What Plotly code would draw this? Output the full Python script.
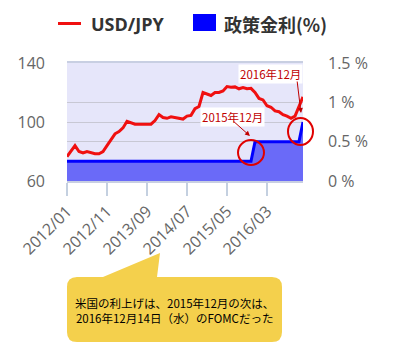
import plotly.graph_objects as go
import pandas as pd

months = [d.strftime("%Y/%m") for d in pd.date_range("2012-01-01", "2016-12-01", freq="MS")]

usdjpy = [76.5, 80, 84, 80, 79, 80, 79, 78.5, 78.5, 80, 84, 88,
          92, 93.5, 96, 100.5, 99.5, 98.5, 98.5, 98.5, 98.5, 98.5, 101, 105,
          103, 102.5, 103.5, 103, 102.5, 102, 104, 104.5, 109, 110.5, 120, 119,
          118, 120, 120, 121, 124, 123.5, 123.8, 122.5, 123.3, 122.5, 122.8, 120,
          116, 115, 111, 110, 107.5, 107, 105, 104, 102.5, 104, 110.5, 117]

policy_rate = [0.25] * 47 + [0.5] * 12 + [0.75]

tick_labels = ["2012/01", "2012/11", "2013/09", "2014/07", "2015/05", "2016/03"]
left_ticks = [60, 100, 140]
right_ticks = [0, 0.5, 1, 1.5]
right_text = ["0 %", "0.5 %", "1 %", "1.5 %"]

W_, H_ = 394, 352
L, R, T, B = 67, 303, 63, 181
PW, PH = R - L, B - T


def px(x):
    return (x - L) / PW


def py(y):
    return (B - y) / PH


FONT = "Open Sans, Noto Sans CJK JP, sans-serif"
JFONT = "Noto Sans CJK JP, sans-serif"
GRAY = "#666666"

fig = go.Figure()
fig.add_trace(go.Scatter(
    x=months, y=policy_rate, yaxis="y2", mode="lines",
    line=dict(color="#0000ff", width=3), fill="tozeroy",
    fillcolor="#6a6af8", name="政策金利(%)", showlegend=False))
fig.add_trace(go.Scatter(
    x=months, y=usdjpy, mode="lines",
    line=dict(color="#f01010", width=3), name="USD/JPY", showlegend=False))

shapes = []
# legend
shapes.append(dict(type="line", xref="paper", yref="paper",
                   x0=px(58), x1=px(81), y0=py(23.5), y1=py(23.5),
                   line=dict(color="#f01010", width=3)))
shapes.append(dict(type="rect", xref="paper", yref="paper",
                   x0=px(193), x1=px(216), y0=py(31), y1=py(14),
                   fillcolor="#0000ff", line=dict(width=0)))
# circles
shapes.append(dict(type="circle", xref="paper", yref="paper",
                   x0=px(238), x1=px(264), y0=py(165), y1=py(140),
                   line=dict(color="#e00000", width=2)))
shapes.append(dict(type="circle", xref="paper", yref="paper",
                   x0=px(288), x1=px(313), y0=py(145), y1=py(118),
                   line=dict(color="#e00000", width=2)))


# callout bubble
def pt(x, y):
    return f"{px(x):.5f},{py(y):.5f}"


path = ("M" + pt(77, 277) + " L" + pt(103, 277) + " L" + pt(160, 253) + " L" + pt(157, 277) +
        " L" + pt(272, 277) + " Q" + pt(282, 277) + " " + pt(282, 287) +
        " L" + pt(282, 332) + " Q" + pt(282, 342) + " " + pt(272, 342) +
        " L" + pt(77, 342) + " Q" + pt(67, 342) + " " + pt(67, 332) +
        " L" + pt(67, 287) + " Q" + pt(67, 277) + " " + pt(77, 277) + " Z")
shapes.append(dict(type="path", xref="paper", yref="paper", path=path,
                   fillcolor="#f4d04c", line=dict(width=0), layer="above"))

annotations = [
    dict(text="<b>USD/JPY</b>", xref="paper", yref="paper", x=px(89), y=py(24),
         xanchor="left", yanchor="middle", showarrow=False,
         font=dict(family=FONT, size=18, color="#333333")),
    dict(text="<b>政策金利(%)</b>", xref="paper", yref="paper", x=px(222), y=py(24),
         xanchor="left", yanchor="middle", showarrow=False,
         font=dict(family=JFONT, size=18, color="#333333")),
    dict(text="2016年12月", xref="paper", yref="paper", x=px(270), y=py(73.5),
         xanchor="center", yanchor="middle", showarrow=False, bgcolor="white",
         borderpad=1, font=dict(family=JFONT, size=11.5, color="#c00000")),
    dict(text="2015年12月", xref="paper", yref="paper", x=px(232), y=py(117),
         xanchor="center", yanchor="middle", showarrow=False, bgcolor="white",
         borderpad=1, font=dict(family=JFONT, size=11.5, color="#c00000")),
    dict(text="", xref="paper", yref="paper", x=px(301), y=py(113), ax=-4, ay=-33,
         showarrow=True, arrowhead=2, arrowsize=1, arrowwidth=1, arrowcolor="#c00000"),
    dict(text="", xref="paper", yref="paper", x=px(250), y=py(136), ax=-18, ay=-16,
         showarrow=True, arrowhead=2, arrowsize=1, arrowwidth=1, arrowcolor="#c00000"),
    dict(text="米国の利上げは、2015年12月の次は、<br>2016年12月14日（水）のFOMCだった",
         xref="paper", yref="paper", x=px(174.5), y=py(310.5),
         xanchor="center", yanchor="middle", showarrow=False, align="center",
         font=dict(family=JFONT, size=11.5, color="#000000")),
]

fig.update_layout(
    width=W_, height=H_,
    margin=dict(l=L, r=W_ - R, t=T, b=H_ - B, autoexpand=False),
    paper_bgcolor="white", plot_bgcolor="#e6e6fa",
    showlegend=False,
    xaxis=dict(type="category", range=[0, len(months) - 1], tickmode="array",
               tickvals=tick_labels, ticktext=tick_labels, tickangle=-45,
               ticks="outside", ticklen=13, tickcolor="#c4d0e0", tickwidth=1.5,
               showgrid=False, showline=True, linecolor="#c8cfe2", linewidth=1.5,
               mirror=True, zeroline=False, automargin=False,
               tickfont=dict(family=FONT, size=16, color=GRAY)),
    yaxis=dict(range=[60, 140], tickvals=left_ticks, showgrid=True,
               gridcolor="#c8c8d4", gridwidth=1, zeroline=False,
               showline=False, automargin=False, ticklabelstandoff=21,
               tickfont=dict(family=FONT, size=16, color=GRAY)),
    yaxis2=dict(range=[0, 1.5], tickvals=right_ticks, ticktext=right_text,
                overlaying="y", side="right", showgrid=True,
                gridcolor="#c8c8d4", gridwidth=1, zeroline=False,
                showline=False, automargin=False, ticklabelstandoff=24,
                tickfont=dict(family=FONT, size=16, color=GRAY)),
    shapes=shapes, annotations=annotations,
)

fig.write_html("out.html")
